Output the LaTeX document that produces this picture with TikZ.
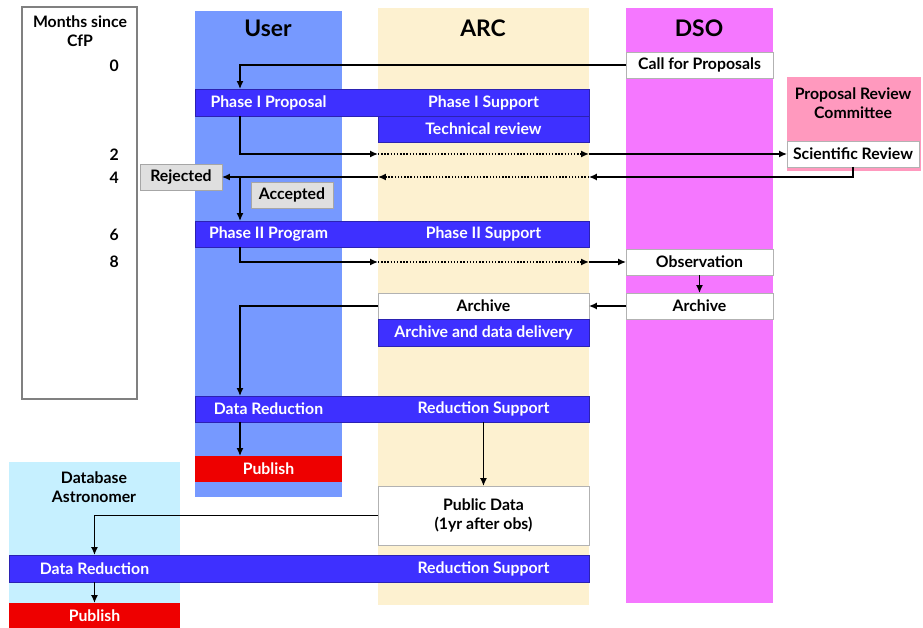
\documentclass[tikz,border=0pt]{standalone}
\usepackage{fontspec}
\setmainfont{Lato}
\usetikzlibrary{arrows.meta}

\definecolor{userblue}{RGB}{118,153,255}
\definecolor{arcbeige}{RGB}{253,241,208}
\definecolor{dsopink}{RGB}{245,119,255}
\definecolor{prcpink}{RGB}{255,153,190}
\definecolor{dbcyan}{RGB}{198,240,255}
\definecolor{barblue}{RGB}{62,48,255}
\definecolor{pubred}{RGB}{238,0,0}

\begin{document}
\begin{tikzpicture}[x=0.02cm, y=-0.02cm,
  font=\bfseries\fontsize{9}{10.5}\selectfont,
  box/.style={anchor=north west, inner sep=0pt, outer sep=0pt},
  lane/.style={box, draw=none},
  bar/.style={box, fill=barblue, draw=barblue!70!black, line width=0.3pt, text=white},
  whitebox/.style={box, fill=white, draw=gray!60, line width=0.5pt},
  greybox/.style={box, fill=gray!25, draw=gray!70, line width=0.5pt},
  redbox/.style={box, fill=pubred, text=white},
  head/.style={font=\bfseries\fontsize{13}{15}\selectfont},
  barlabel/.style={text=white},
  arr/.style={-{Latex[length=4.5pt,width=4pt]}, line width=0.8pt},
  dots/.style={arr, densely dotted}]
\useasboundingbox (0,0) rectangle (923,628);

% Swim lanes
\node[lane, fill=userblue, minimum width=2.94cm, minimum height=9.72cm] (user) at (195,11) {};
\node[lane, fill=arcbeige, minimum width=4.22cm, minimum height=11.94cm] (arc) at (378,8) {};
\node[lane, fill=dsopink, minimum width=2.94cm, minimum height=11.90cm] (dso) at (626,8) {};
\node[lane, fill=prcpink, minimum width=2.68cm, minimum height=1.88cm] (prc) at (787,77) {};
\node[lane, fill=dbcyan, minimum width=3.42cm, minimum height=3.32cm] (db) at (9,462) {};
\node[box, fill=white, draw=gray, line width=0.8pt, minimum width=2.30cm, minimum height=7.84cm] (months) at (22,7) {};

% Lane headings
\node[head] (userhead) at (268,28) {User};
\node[head] (archead) at (483,28) {ARC};
\node[head] (dsohead) at (699,28) {DSO};
\node[align=center] (prchead) at (853,103) {Proposal Review\\Committee};
\node[align=center] (dbhead) at (94,487) {Database\\Astronomer};

% Time axis
\node[align=center] (monthshead) at (80,31) {Months since\\CfP};
\foreach \m/\y in {0/66,2/155,4/178,6/235,8/262}
  \node[anchor=east] (m\m) at (125,\y) {\m};

% Phase I
\node[whitebox, minimum width=2.94cm, minimum height=0.52cm] (cfp) at (626,52) {Call for Proposals};
\node[bar, minimum width=7.88cm, minimum height=0.54cm] (p1bar) at (195,89) {};
\node[barlabel] (p1prop) at (user |- p1bar) {Phase I Proposal};
\node[barlabel] (p1supp) at (arc |- p1bar) {Phase I Support};
\node[bar, minimum width=4.22cm, minimum height=0.52cm] (tech) at (378,116) {Technical review};
\node[whitebox, minimum width=2.64cm, minimum height=0.52cm] (scirev) at (787,141) {Scientific Review};
\node[greybox, minimum width=1.64cm, minimum height=0.52cm] (rej) at (140,164) {Rejected};
\node[greybox, minimum width=1.64cm, minimum height=0.52cm] (acc) at (251,182) {Accepted};

% Phase II
\node[bar, minimum width=7.88cm, minimum height=0.52cm] (p2bar) at (195,221) {};
\node[barlabel] (p2prog) at (user |- p2bar) {Phase II Program};
\node[barlabel] (p2supp) at (arc |- p2bar) {Phase II Support};
\node[whitebox, minimum width=2.94cm, minimum height=0.52cm] (obs) at (626,249) {Observation};
\node[whitebox, minimum width=2.94cm, minimum height=0.52cm] (dsoarch) at (626,293) {Archive};
\node[whitebox, minimum width=4.22cm, minimum height=0.52cm] (arcarch) at (378,293) {Archive};
\node[bar, minimum width=4.22cm, minimum height=0.54cm] (deliv) at (378,319) {Archive and data delivery};

% Reduction
\node[bar, minimum width=7.88cm, minimum height=0.52cm] (drbar) at (195,396) {};
\node[barlabel] (dr) at (user |- drbar) {Data Reduction};
\node[barlabel] (rs) at (arc |- drbar) {Reduction Support};
\node[redbox, minimum width=2.94cm, minimum height=0.52cm] (pub1) at (195,456) {Publish};
\node[whitebox, minimum width=4.22cm, minimum height=1.18cm, align=center] (pubdata) at (378,486) {Public Data\\(1yr after obs)};
\node[bar, minimum width=11.60cm, minimum height=0.54cm] (drbar2) at (9,555) {};
\node[barlabel] (dr2) at (db |- drbar2) {Data Reduction};
\node[barlabel] (rs2) at (arc |- drbar2) {Reduction Support};
\node[redbox, minimum width=3.42cm, minimum height=0.50cm] (pub2) at (9,603) {Publish};

% Connectors
\coordinate (ux) at (240,0);
\draw[arr] (cfp.west) -| (ux |- p1bar.north);
\draw[arr] (ux |- p1bar.south) |- (arc.west |- scirev.west);
\draw[dots] (arc.west |- scirev.west) -- (arc.east |- scirev.west);
\draw[arr] (arc.east |- scirev.west) -- (scirev.west);
\draw[arr] (scirev.south) |- (arc.east |- rej.east);
\draw[dots] (arc.east |- rej.east) -- (arc.west |- rej.east);
\draw[arr] (arc.west |- rej.east) -- (rej.east);
\draw[arr] (ux |- rej.east) -- (ux |- p2bar.north);
\draw[arr] (ux |- p2bar.south) |- (arc.west |- obs.west);
\draw[dots] (arc.west |- obs.west) -- (arc.east |- obs.west);
\draw[arr] (arc.east |- obs.west) -- (obs.west);
\draw[arr] (obs.south) -- (dsoarch.north);
\draw[arr] (dsoarch.west) -- (arcarch.east);
\draw[arr] (arcarch.west) -| (ux |- drbar.north);
\draw[arr] (ux |- drbar.south) -- (ux |- pub1.north);
\draw[arr] (drbar.south -| pubdata.north) -- (pubdata.north);
\draw[arr] (pubdata.west) -| (db.center |- drbar2.north);
\draw[arr] (db.center |- drbar2.south) -- (db.center |- pub2.north);
\end{tikzpicture}
\end{document}
